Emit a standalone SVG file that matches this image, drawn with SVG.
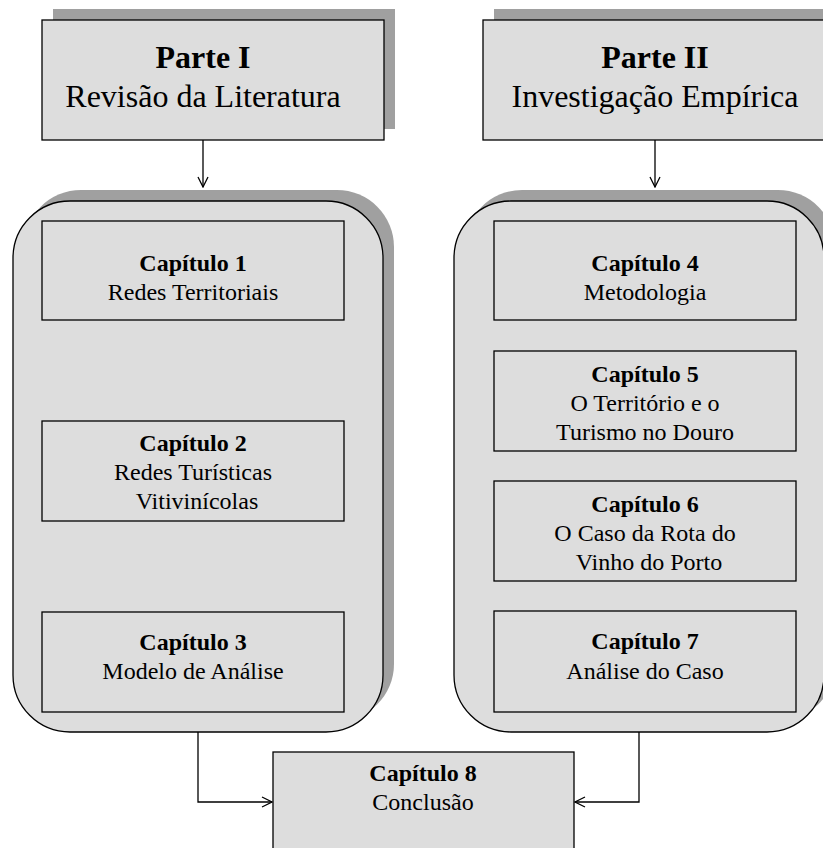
<svg xmlns="http://www.w3.org/2000/svg" width="823" height="848" viewBox="0 0 823 848">
<style>
.shadow{fill:#a0a0a0;stroke:none}
.box{fill:#dddddd;stroke:#000;stroke-width:1.3}
.t{font-family:"Liberation Serif","Times New Roman",serif;fill:#000;text-anchor:middle}
.big{font-size:32px}
.sm{font-size:24px}
.b{font-weight:bold}
.conn{fill:none;stroke:#000;stroke-width:1.3}
</style>
<defs>
<marker id="arr" viewBox="0 0 12 12" refX="11" refY="6" markerWidth="12" markerHeight="12" markerUnits="userSpaceOnUse" orient="auto">
<path d="M1,1 L11,6 L1,11" fill="none" stroke="#000" stroke-width="1.3"/>
</marker>
</defs>
<g id="parte1">
<rect class="shadow" x="53" y="9" width="342" height="120"/>
<rect class="box" x="42" y="20" width="342" height="120"/>
<text class="t big b" x="203" y="68">Parte I</text>
<text class="t big" x="203" y="107">Revisão da Literatura</text>
</g>
<g id="parte2">
<rect class="shadow" x="494" y="9" width="342" height="120"/>
<rect class="box" x="483" y="20" width="342" height="120"/>
<text class="t big b" x="655" y="68">Parte II</text>
<text class="t big" x="655" y="107">Investigação Empírica</text>
</g>
<g id="grupo1">
<rect class="shadow" x="24" y="190" width="370" height="531" rx="57" ry="57"/>
<rect class="box" x="13" y="201" width="370" height="531" rx="57" ry="57"/>
</g>
<g id="grupo2">
<rect class="shadow" x="465" y="190" width="370" height="531" rx="57" ry="57"/>
<rect class="box" x="454" y="201" width="370" height="531" rx="57" ry="57"/>
</g>
<g id="cap1">
<rect class="box" x="42" y="221" width="302" height="99"/>
<text class="t sm b" x="193" y="271">Capítulo 1</text>
<text class="t sm" x="193" y="300">Redes Territoriais</text>
</g>
<g id="cap2">
<rect class="box" x="42" y="421" width="302" height="100"/>
<text class="t sm b" x="193" y="451">Capítulo 2</text>
<text class="t sm" x="193" y="480">Redes Turísticas</text>
<text class="t sm" x="197" y="509">Vitivinícolas</text>
</g>
<g id="cap3">
<rect class="box" x="42" y="612" width="302" height="100"/>
<text class="t sm b" x="193" y="650">Capítulo 3</text>
<text class="t sm" x="193" y="679">Modelo de Análise</text>
</g>
<g id="cap4">
<rect class="box" x="494" y="221" width="302" height="99"/>
<text class="t sm b" x="645" y="271">Capítulo 4</text>
<text class="t sm" x="645" y="300">Metodologia</text>
</g>
<g id="cap5">
<rect class="box" x="494" y="351" width="302" height="100"/>
<text class="t sm b" x="645" y="382">Capítulo 5</text>
<text class="t sm" x="645" y="411">O Território e o</text>
<text class="t sm" x="645" y="440">Turismo no Douro</text>
</g>
<g id="cap6">
<rect class="box" x="494" y="481" width="302" height="100"/>
<text class="t sm b" x="645" y="512">Capítulo 6</text>
<text class="t sm" x="645" y="541">O Caso da Rota do</text>
<text class="t sm" x="649" y="570">Vinho do Porto</text>
</g>
<g id="cap7">
<rect class="box" x="494" y="611" width="302" height="101"/>
<text class="t sm b" x="645" y="649">Capítulo 7</text>
<text class="t sm" x="645" y="679">Análise do Caso</text>
</g>
<g id="cap8">
<rect class="box" x="273" y="752" width="301" height="110"/>
<text class="t sm b" x="423" y="781">Capítulo 8</text>
<text class="t sm" x="423" y="810">Conclusão</text>
</g>
<g id="connectors">
<path class="conn" d="M203,140 V187" marker-end="url(#arr)"/>
<path class="conn" d="M655,140 V187" marker-end="url(#arr)"/>
<path class="conn" d="M198,732 V802 H272" marker-end="url(#arr)"/>
<path class="conn" d="M639,732 V802 H575" marker-end="url(#arr)"/>
</g>
</svg>
